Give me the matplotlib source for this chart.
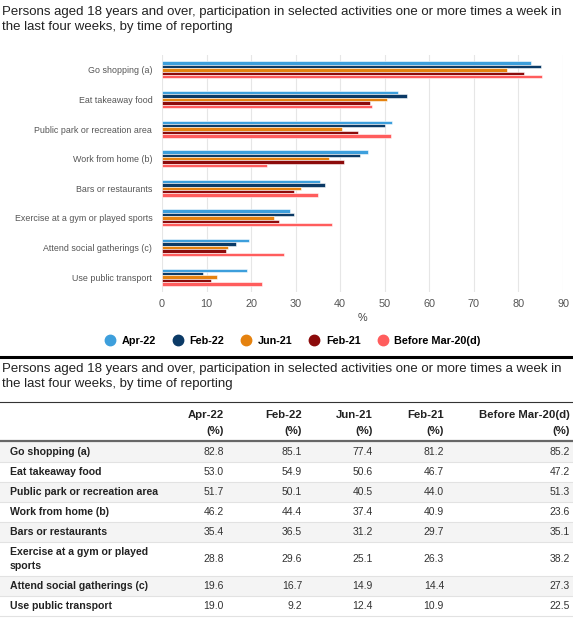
import matplotlib.pyplot as plt
from matplotlib.lines import Line2D
from matplotlib.patches import Rectangle
import numpy as np

# chart data
activities = ["Go shopping (a)", "Eat takeaway food", "Public park or recreation area",
              "Work from home (b)", "Bars or restaurants", "Exercise at a gym or played sports",
              "Attend social gatherings (c)", "Use public transport"]
table_labels = ["Go shopping (a)", "Eat takeaway food", "Public park or recreation area",
                "Work from home (b)", "Bars or restaurants", "Exercise at a gym or played\nsports",
                "Attend social gatherings (c)", "Use public transport"]
periods = ["Apr-22", "Feb-22", "Jun-21", "Feb-21", "Before Mar-20(d)"]
apr22 = [82.8, 53.0, 51.7, 46.2, 35.4, 28.8, 19.6, 19.0]
feb22 = [85.1, 54.9, 50.1, 44.4, 36.5, 29.6, 16.7, 9.2]
jun21 = [77.4, 50.6, 40.5, 37.4, 31.2, 25.1, 14.9, 12.4]
feb21 = [81.2, 46.7, 44.0, 40.9, 29.7, 26.3, 14.4, 10.9]
before_mar20 = [85.2, 47.2, 51.3, 23.6, 35.1, 38.2, 27.3, 22.5]
series = [apr22, feb22, jun21, feb21, before_mar20]
colors = ["#3d9fdc", "#0b3a66", "#e5820f", "#8c0b0b", "#ff5d5d"]

title = ("Persons aged 18 years and over, participation in selected activities one or more times a week in\n"
         "the last four weeks, by time of reporting")

W, H = 573, 619
plt.rcParams['font.family'] = ['Liberation Sans', 'DejaVu Sans']


def fx(x):
    return x / W


def fy(y):
    return 1 - y / H


fig = plt.figure(figsize=(W / 100, H / 100), dpi=100)

# ---- chart ----
fig.text(fx(2), fy(6), title, ha='left', va='top', fontsize=9.5, color='#222222',
         linespacing=1.3)

ax = fig.add_axes([fx(162), fy(292), (563 - 162) / W, (292 - 55) / H])
ypos = np.arange(len(activities))
bh = 0.115
for j, (vals, c) in enumerate(zip(series, colors)):
    ax.barh(ypos + (j - 2) * bh, vals, height=bh, color=c, edgecolor='white',
            linewidth=0.4, label=periods[j], zorder=3)
ax.set_ylim(len(activities) - 0.5, -0.5)
ax.set_xlim(0, 90)
ax.set_xticks(np.arange(0, 91, 10))
ax.set_yticks(ypos)
ax.set_yticklabels(activities)
ax.grid(axis='x', color='#e6e6e6', linewidth=0.8, zorder=0)
for s in ax.spines.values():
    s.set_visible(False)
ax.tick_params(axis='both', length=0, colors='#555555')
ax.tick_params(axis='y', pad=7, labelsize=6.4)
ax.tick_params(axis='x', pad=5, labelsize=7.8)
ax.set_xlabel('%', fontsize=7.8, color='#444444', labelpad=3)

handles = [Line2D([0], [0], marker='o', linestyle='', markersize=7.5,
                  markerfacecolor=c, markeredgecolor=c) for c in colors]
fig.legend(handles, periods, loc='center', bbox_to_anchor=(fx(290), fy(341)), ncol=5,
           frameon=False, handletextpad=0.1, columnspacing=1.0,
           prop={'weight': 'bold', 'size': 7.8})

# ---- table ----
fig.add_artist(Line2D([0, 1], [fy(357), fy(357)], color='black', linewidth=2.2))
fig.text(fx(2), fy(363), title, ha='left', va='top', fontsize=9.5, color='#222222',
         linespacing=1.3)
fig.add_artist(Line2D([0, 1], [fy(402), fy(402)], color='#333333', linewidth=0.8))

col_right = [224, 302, 373, 444, 570]
for x, p in zip(col_right, periods):
    fig.text(fx(x), fy(415), p, ha='right', va='center', fontsize=8.2,
             fontweight='bold', color='#222222')
    fig.text(fx(x), fy(431), '(%)', ha='right', va='center', fontsize=8.2,
             fontweight='bold', color='#222222')

row_h = [34 if '\n' in lab else 20 for lab in table_labels]
top = 442
for i, lab in enumerate(table_labels):
    h = row_h[i]
    if i % 2 == 0:
        fig.add_artist(Rectangle((0, fy(top + h)), 1, h / H, transform=fig.transFigure,
                                 facecolor='#f4f4f4', edgecolor='none'))
    fig.add_artist(Line2D([0, 1], [fy(top + h), fy(top + h)], color='#e2e2e2', linewidth=0.8))
    yc = top + h / 2
    fig.text(fx(10), fy(yc), lab, ha='left', va='center', fontsize=7.6,
             fontweight='bold', color='#222222', linespacing=1.5)
    for x, vals in zip(col_right, series):
        fig.text(fx(x), fy(yc), f"{vals[i]:.1f}", ha='right', va='center',
                 fontsize=7.5, color='#333333')
    top += h
fig.add_artist(Line2D([0, 1], [fy(441), fy(441)], color='#666666', linewidth=1.6))

fig.savefig('out.png', dpi=100)
